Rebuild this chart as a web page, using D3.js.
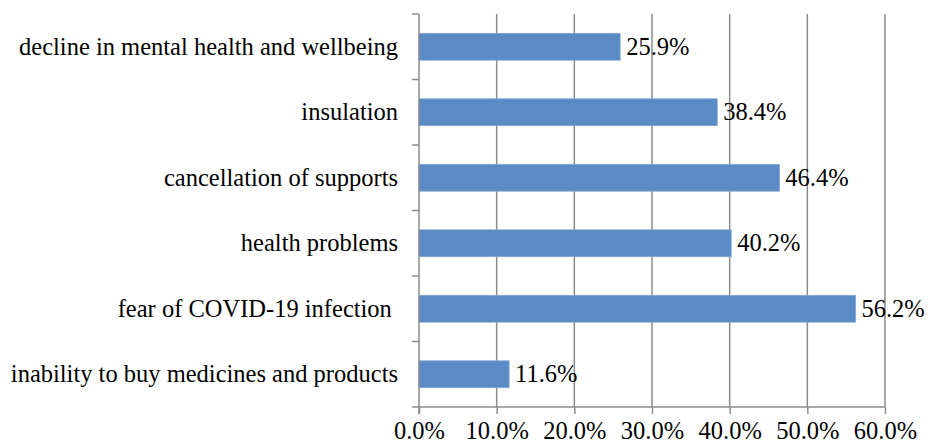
<!DOCTYPE html>
<html>
<head>
<meta charset="utf-8">
<script src="https://cdn.jsdelivr.net/npm/d3@7"></script>
<style>
  body { margin: 0; background: #fff; }
</style>
</head>
<body>
<div id="chart"></div>
<script>
// chart data
const categories = [
  "decline in mental health and wellbeing",
  "insulation",
  "cancellation of supports",
  "health problems",
  "fear of COVID-19 infection ",
  "inability to buy medicines and products"
];
const values = [25.9, 38.4, 46.4, 40.2, 56.2, 11.6];
const xTicks = [0, 10, 20, 30, 40, 50, 60];

const width = 935, height = 444;
const margin = {left: 419, right: 50, top: 14, bottom: 37};
const fontFam = "Liberation Serif";
const fontSize = 24.5;

const x = d3.scaleLinear().domain([0, 60]).range([margin.left, width - margin.right]);
const y = d3.scaleBand().domain(categories).range([margin.top, height - margin.bottom]).paddingInner(0.59).paddingOuter(0.295);

const svg = d3.select("#chart").append("svg")
  .attr("width", width)
  .attr("height", height)
  .attr("font-family", fontFam)
  .attr("font-size", fontSize);

// gridlines
svg.append("g")
  .selectAll("line")
  .data(xTicks.slice(1))
  .join("line")
    .attr("x1", d => x(d)).attr("x2", d => x(d))
    .attr("y1", margin.top).attr("y2", height - margin.bottom)
    .attr("stroke", "#8c8c8c").attr("stroke-width", 1.5);

// bars
svg.append("g")
  .selectAll("rect")
  .data(values)
  .join("rect")
    .attr("x", x(0))
    .attr("y", (d, i) => y(categories[i]))
    .attr("width", d => x(d) - x(0))
    .attr("height", y.bandwidth())
    .attr("fill", "#5b8bc5")
    .attr("stroke", "#7ea3d2").attr("stroke-width", 0.8);

// value labels
svg.append("g")
  .selectAll("text")
  .data(values)
  .join("text")
    .attr("x", d => x(d) + 6)
    .attr("y", (d, i) => y(categories[i]) + y.bandwidth() / 2 + 8)
    .attr("font-family", fontFam)
    .attr("font-size", fontSize)
    .text(d => d.toFixed(1) + "%");

// x axis
const xAxis = svg.append("g")
  .attr("transform", `translate(0,${height - margin.bottom})`)
  .call(d3.axisBottom(x).tickValues(xTicks).tickSize(7).tickSizeOuter(0)
    .tickFormat(d => d.toFixed(1) + "%"));
xAxis.attr("font-family", fontFam).attr("font-size", fontSize);
xAxis.select(".domain").attr("stroke", "#8c8c8c").attr("stroke-width", 1.5)
  .attr("d", `M${x(0) - 7},0H${x(60)}`);
xAxis.selectAll(".tick line").attr("stroke", "#8c8c8c").attr("stroke-width", 1.5);
xAxis.selectAll(".tick text")
  .attr("y", 32).attr("dy", null)
  .attr("font-family", fontFam)
  .attr("font-size", fontSize)
  .attr("fill", "#000");

// y axis
const yAxis = svg.append("g")
  .attr("transform", `translate(${margin.left},0)`);
const yEdges = d3.range(categories.length + 1).map(i => margin.top + i * y.step());
yAxis.append("line")
  .attr("x1", 0).attr("x2", 0)
  .attr("y1", margin.top).attr("y2", height - margin.bottom + 7)
  .attr("stroke", "#8c8c8c").attr("stroke-width", 1.5);
yAxis.selectAll(".ytick")
  .data(yEdges.slice(0, -1))
  .join("line")
    .attr("class", "ytick")
    .attr("x1", -7).attr("x2", 0)
    .attr("y1", d => d).attr("y2", d => d)
    .attr("stroke", "#8c8c8c").attr("stroke-width", 1.5);
yAxis.selectAll(".ylabel")
  .data(categories)
  .join("text")
    .attr("class", "ylabel")
    .attr("x", -21)
    .attr("y", d => y(d) + y.bandwidth() / 2 + 8)
    .attr("text-anchor", "end")
    .attr("font-family", fontFam)
    .attr("font-size", fontSize)
    .attr("xml:space", "preserve")
    .text(d => d);
</script>
</body>
</html>
